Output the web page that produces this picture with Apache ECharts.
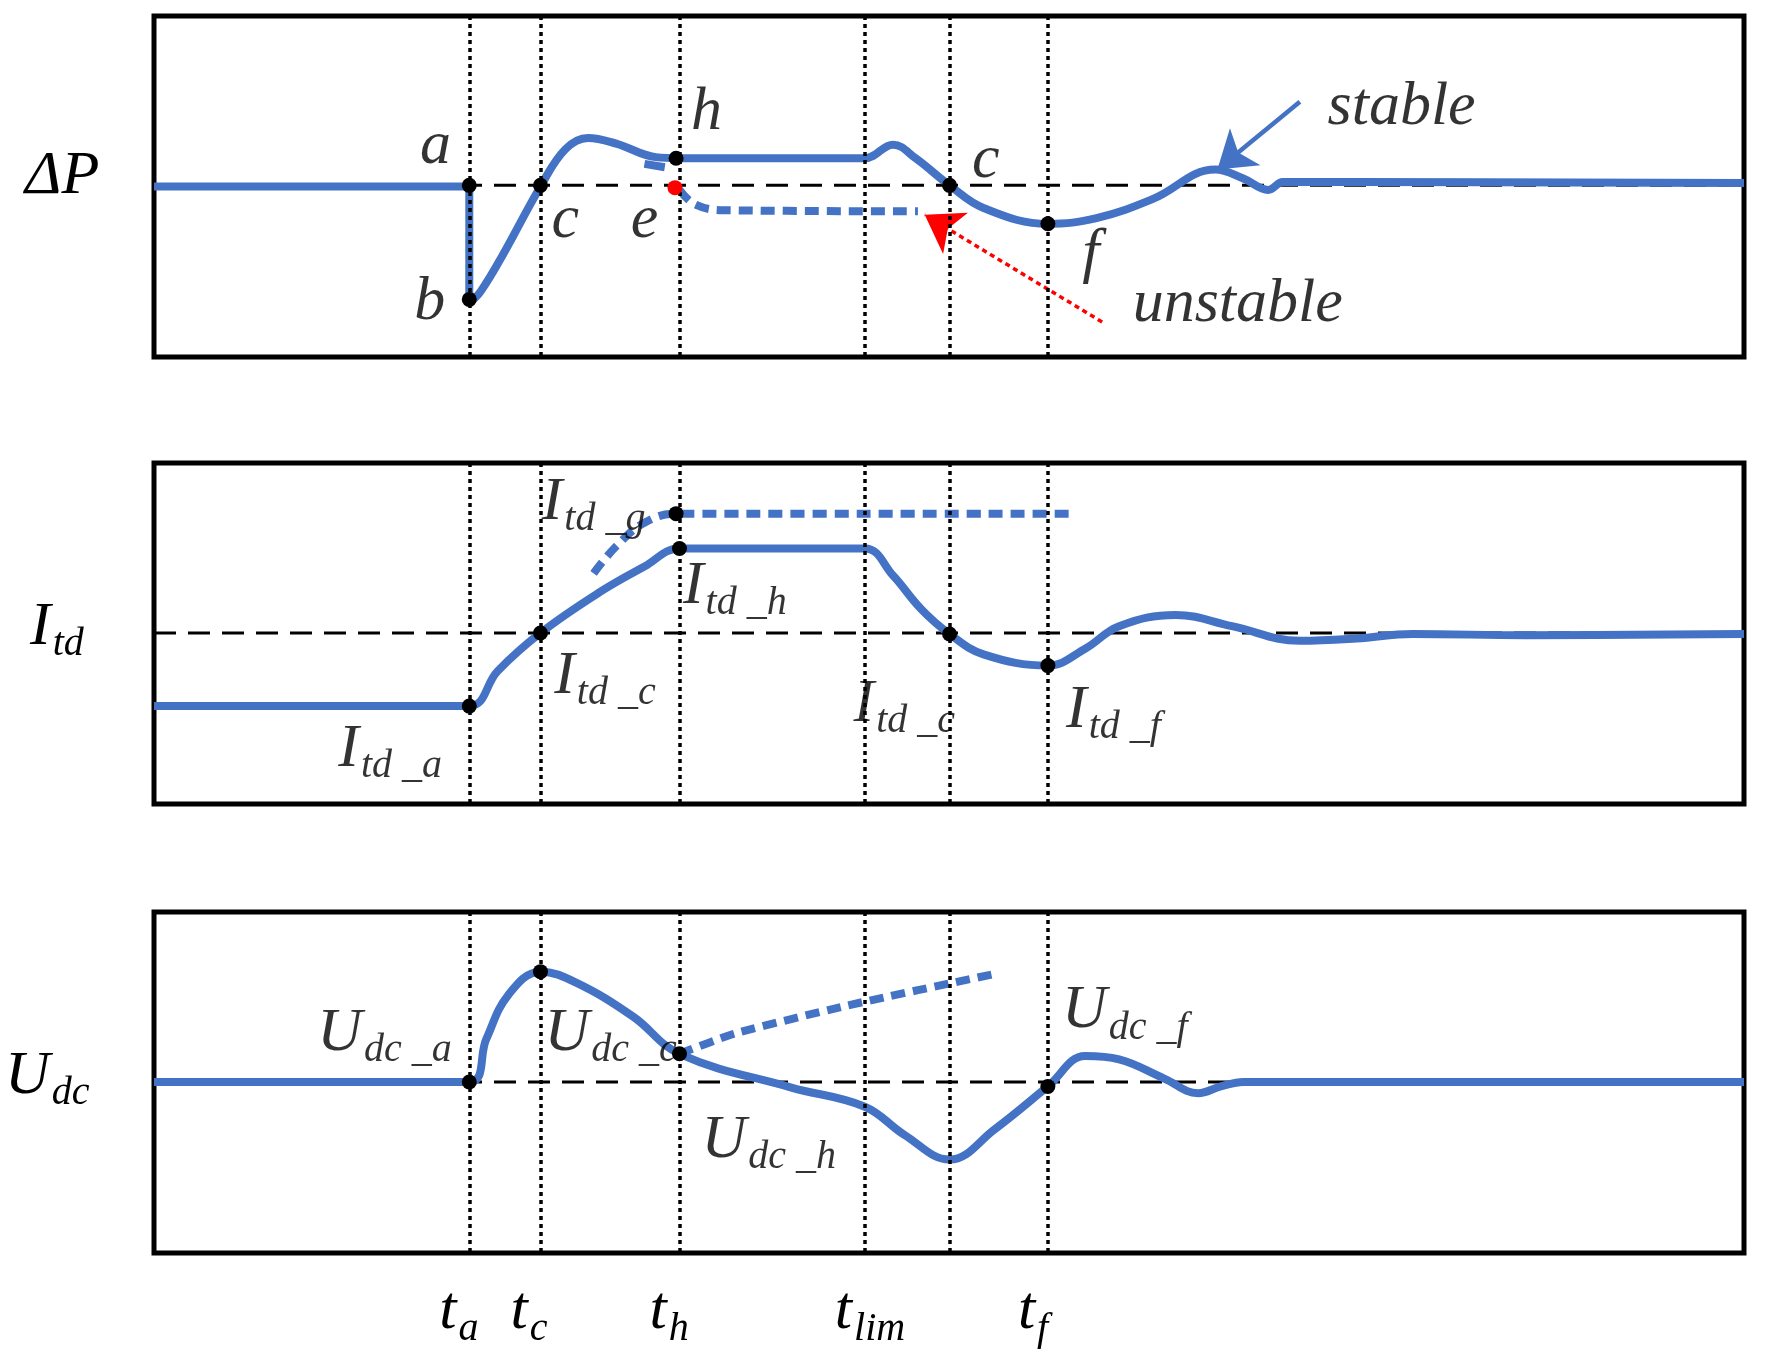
<!DOCTYPE html>
<html><head><meta charset="utf-8">
<script src="https://cdn.jsdelivr.net/npm/echarts@6/dist/echarts.min.js"></script>
<style>html,body{margin:0;padding:0;background:#fff}#c{width:1773px;height:1361px}</style>
</head><body><div id="c"></div>
<script>
// x/y values are read positions (reading units) on the reference
const vlines = [415, 478, 601, 765, 840, 927];
const tickLabels = [['t','a',415],['t','c',478],['t','h',601],['t','lim',765],['t','f',927]];
// Panel 1: ΔP
const p1Stable = [[136,165],[415,165],[415,268],[425,258],[445,225],[478,165],[500,132],[520,122],[545,127],[580,139],[601,140],[765,140],[790,128],[810,140],[840,164],[870,184],[927,198],[970,193],[1020,176],[1075,150],[1100,158],[1122,168],[1135,161],[1200,161],[1543,162]];
const p1Short = [[570,145],[588,148]];
const p1Unstable = [[601,168],[615,181],[640,186],[812,187]];
const p1Base = [[136,164],[1543,164]];
const p1Points = [[415,164],[415,265],[478,164],[598,140],[840,164],[927,198]];
const p1Red = [[597,166]];
const p1Labels = [[385,130,'a'],[380,268,'b'],[500,195,'c'],[570,195,'e'],[625,100,'h'],[872,142,'c'],[965,225,'f'],[1240,95,'stable'],[1095,270,'unstable']];
// Panel 2: I_td
const p2Curve = [[136,626],[415,626],[440,595],[478,561],[530,525],[570,502],[601,486],[765,486],[790,510],[815,540],[840,562],[870,580],[927,590],[960,575],[990,555],[1040,545],[1090,555],[1150,568],[1200,566],[1250,562],[1350,563],[1543,562]];
const p2Dash = [[525,508],[545,484],[570,463],[598,455],[950,455]];
const p2Base = [[136,561],[1543,561]];
const p2Points = [[415,626],[478,561],[601,486],[598,455],[840,562],[927,590]];
const p2Labels = [[345,665,'I','td _a'],[535,600,'I','td _c'],[525,445,'I','td _g'],[650,520,'I','td _h'],[800,625,'I','td _c'],[985,630,'I','td _f']];
// Panel 3: U_dc
const p3Curve = [[136,958],[415,958],[430,920],[450,880],[478,860],[510,870],[560,900],[601,933],[700,963],[765,980],[800,1005],[840,1027],[880,1000],[927,962],[960,935],[990,938],[1030,955],[1060,968],[1080,962],[1100,958],[1300,958],[1543,958]];
const p3Dash = [[601,933],[650,915],[750,890],[880,862]];
const p3Base = [[136,958],[1543,958]];
const p3Points = [[415,958],[478,860],[601,933],[927,962]];
const p3Labels = [[340,915,'U','dc _a'],[540,915,'U','dc _c'],[680,1010,'U','dc _h'],[995,895,'U','dc _f']];

const BLUE='#4472c4';
const FF='"Liberation Serif", "DejaVu Serif", serif';
const chart = echarts.init(document.getElementById('c'));
const tops=[16,463,912], H=341;
const yr=[[14,316],[410,713],[807,1110]];
const rich={m:{fontSize:62,fontStyle:'italic',fontFamily:FF,color:'#000'},
 s:{fontSize:40,fontStyle:'italic',fontFamily:FF,color:'#000',padding:[34,0,0,2]}};
const grids=tops.map(t=>({left:154,width:1590,top:t,height:H,show:true,borderColor:'#000',borderWidth:5,containLabel:false}));
const xAxes=[0,1,2].map(i=>({type:'value',gridIndex:i,min:136,max:1543,show:false}));
const yAxes=[0,1,2].map(i=>({type:'value',gridIndex:i,min:yr[i][0],max:yr[i][1],inverse:true,show:false}));
function line(i,data,o){return Object.assign({type:'line',xAxisIndex:i,yAxisIndex:i,data,symbol:'none',smooth:0.4,lineStyle:{color:BLUE,width:8},z:3,silent:true},o||{});}
function base(i,data){return {type:'line',xAxisIndex:i,yAxisIndex:i,data,symbol:'none',lineStyle:{color:'#000',width:3,type:[22,12]},z:2,
  markLine:{symbol:'none',silent:true,label:{show:false},lineStyle:{color:'#000',width:3.5,type:[4,4]},data:vlines.map(v=>({xAxis:v}))}};}
function pts(i,data,color){return {type:'scatter',xAxisIndex:i,yAxisIndex:i,data,symbolSize:15,itemStyle:{color:color||'#000',opacity:1},z:5};}
function labs(i,data,sub){return {type:'scatter',xAxisIndex:i,yAxisIndex:i,symbolSize:0,z:6,
  data:data.map(d=>({value:[d[0],d[1]],t:d.slice(2)})),
  label:{show:true,position:'inside',color:'#000',fontFamily:FF,fontStyle:'italic',
   formatter:p=>sub?'{m|'+p.data.t[0]+'}{s|'+p.data.t[1]+'}':'{m|'+p.data.t[0]+'}',rich}};}
const series=[
 base(0,p1Base), line(0,p1Stable),
 line(0,p1Short,{smooth:false}),
 line(0,p1Unstable,{lineStyle:{color:BLUE,width:8,type:[14,8]}}),
 {type:'lines',coordinateSystem:'cartesian2d',xAxisIndex:0,yAxisIndex:0,z:4,symbol:['none','arrow'],symbolSize:[0,36],
  data:[{coords:[[975,285],[818,190]],lineStyle:{color:'#ff0000',width:3.5,type:[5,4],opacity:1}},
        {coords:[[1150,90],[1077,150]],lineStyle:{color:BLUE,width:4.5,opacity:1}}]},
 pts(0,p1Points), pts(0,p1Red,'#ff0000'), labs(0,p1Labels,false),
 base(1,p2Base), line(1,p2Curve), line(1,p2Dash,{lineStyle:{color:BLUE,width:8,type:[14,8]}}), pts(1,p2Points), labs(1,p2Labels,true),
 base(2,p3Base), line(2,p3Curve), line(2,p3Dash,{smooth:0.2,lineStyle:{color:BLUE,width:8,type:[14,8]}}), pts(2,p3Points), labs(2,p3Labels,true)
];
chart.setOption({animation:false,grid:grids,xAxis:xAxes,yAxis:yAxes,series});
function place(){
 const g=[];
 const p0=chart.convertToPixel({gridIndex:0},[136,164]);
 g.push({type:'text',x:25,y:p0[1]-40,style:{text:'ΔP',font:'italic 62px '+FF,fill:'#000'}});
 const names=[[1,'I','td',561],[2,'U','dc',958]];
 names.forEach(n=>{const p=chart.convertToPixel({gridIndex:n[0]},[136,n[3]]);
   g.push({type:'text',x:n[1]==='I'?30:5,y:p[1]-42,style:{rich,text:'{m|'+n[1]+'}{s|'+n[2]+'}'}});});
 tickLabels.forEach(t=>{const p=chart.convertToPixel({gridIndex:2},[t[2],1110]);
   g.push({type:'text',x:p[0]-30,y:p[1]+22,style:{rich,text:'{m|'+t[0]+'}{s|'+t[1]+'}'}});});
 chart.setOption({graphic:g});
}
place();
</script></body></html>
